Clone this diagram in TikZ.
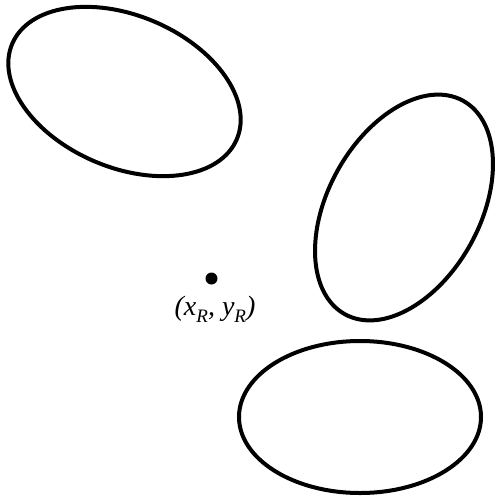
\documentclass[tikz,border=0pt]{standalone}
\usepackage{fontspec}
\setmainfont{Liberation Serif}
\begin{document}
\begin{tikzpicture}[x=1pt,y=-1pt,
  region/.style={draw=black,line width=4pt},
  dotstyle/.style={circle,fill=black,inner sep=0pt,minimum size=12pt},
  lab/.style={font=\fontsize{28}{32}\selectfont\itshape,inner sep=0pt}]
\useasboundingbox (0,0) rectangle (495,499);
\draw[region] (124.5,91.5) ellipse [x radius=122pt, y radius=76pt, rotate=-23];
\draw[region] (404,207.5) ellipse [x radius=122pt, y radius=76pt, rotate=61];
\draw[region] (360,417) ellipse [x radius=121pt, y radius=76pt];
\node[dotstyle] (R) at (211.5,278.5) {};
\node[lab,anchor=base] (RL) at (215,315) {(x\raisebox{-0.25em}{\fontsize{19}{19}\selectfont R}, y\raisebox{-0.25em}{\fontsize{19}{19}\selectfont R})};
\end{tikzpicture}
\end{document}
